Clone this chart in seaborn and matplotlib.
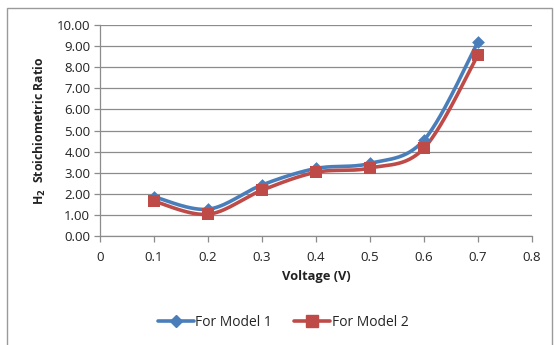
import numpy as np
import pandas as pd
import matplotlib
matplotlib.use("Agg")
import matplotlib.pyplot as plt
import seaborn as sns
from matplotlib.lines import Line2D
from matplotlib.patches import Rectangle

voltage = [0.1, 0.2, 0.3, 0.4, 0.5, 0.6, 0.7]
model1 = [1.86, 1.27, 2.42, 3.20, 3.44, 4.55, 9.20]
model2 = [1.65, 1.03, 2.17, 3.02, 3.22, 4.16, 8.58]
series_names = ["For Model 1", "For Model 2"]
x_ticks = [0, 0.1, 0.2, 0.3, 0.4, 0.5, 0.6, 0.7, 0.8]
x_tick_labels = ["0", "0.1", "0.2", "0.3", "0.4", "0.5", "0.6", "0.7", "0.8"]
y_ticks = [0, 1, 2, 3, 4, 5, 6, 7, 8, 9, 10]

blue = "#4A7EBB"
red = "#BE4B48"


def smooth(xs, ys, n=30):
    # Excel-style smoothed line rendering (cubic Bezier through the points)
    P = np.column_stack([xs, ys]).astype(float)
    out = []
    for i in range(len(P) - 1):
        p0 = P[i - 1] if i > 0 else P[i]
        p1, p2 = P[i], P[i + 1]
        p3 = P[i + 2] if i + 2 < len(P) else P[i + 1]
        c1 = p1 + (p2 - p0) / 6.0
        c2 = p2 - (p3 - p1) / 6.0
        t = np.linspace(0, 1, n, endpoint=(i == len(P) - 2))[:, None]
        seg = ((1 - t) ** 3) * p1 + 3 * ((1 - t) ** 2) * t * c1 + 3 * (1 - t) * t ** 2 * c2 + t ** 3 * p2
        out.append(seg)
    a = np.vstack(out)
    return a[:, 0], a[:, 1]


sns.set_theme(style="white")
plt.rcParams["font.family"] = ["Open Sans", "DejaVu Sans"]

fig = plt.figure(figsize=(5.55, 3.45), dpi=100)
ax = fig.add_axes([100 / 555, 1 - 236 / 345, 432 / 555, 211 / 345])

for vals, col, mk, ms, name in [(model1, blue, "D", 6.5, series_names[0]),
                                  (model2, red, "s", 8.5, series_names[1])]:
    sx, sy = smooth(voltage, vals)
    sns.lineplot(x=sx, y=sy, ax=ax, color=col, linewidth=2.6, sort=False,
                 estimator=None, legend=False)
    sns.scatterplot(x=voltage, y=vals, ax=ax, color=col, marker=mk, s=ms ** 2,
                    linewidth=0, legend=False, zorder=5)

ax.set_xlim(0, 0.8)
ax.set_ylim(0, 10)
ax.set_xticks(x_ticks)
ax.set_xticklabels(x_tick_labels)
ax.set_yticks(y_ticks)
ax.set_yticklabels([f"{v:.2f}" for v in y_ticks])
ax.yaxis.grid(True, color="#8c8c8c", linewidth=0.9)
ax.xaxis.grid(False)
ax.set_axisbelow(True)
for s in ["top", "right"]:
    ax.spines[s].set_visible(False)
for s in ["left", "bottom"]:
    ax.spines[s].set_color("#8c8c8c")
    ax.spines[s].set_linewidth(0.9)
ax.tick_params(axis="both", which="major", direction="out", length=4, width=0.9,
               color="#8c8c8c", labelsize=9.5, labelcolor="#222222", pad=3,
               bottom=True, left=True)
ax.tick_params(axis="x", pad=7)

ax.set_xlabel("Voltage (V)", fontsize=9.3, fontweight="bold", color="#222222", labelpad=4)
ax.set_ylabel("H$_\\mathbf{2}$  Stoichiometric Ratio", fontsize=8.8, fontweight="bold",
              color="#222222", labelpad=6)

handles = [Line2D([0], [0], color=blue, lw=2.6, marker="D", ms=6.5),
           Line2D([0], [0], color=red, lw=2.6, marker="s", ms=8.5)]
fig.legend(handles, series_names, loc="center", bbox_to_anchor=(283 / 555, 1 - 322 / 345),
           ncol=2, frameon=False, fontsize=10, handlelength=2.6, handletextpad=0.1,
           columnspacing=1.6)

fig.patches.append(Rectangle((7 / 555, -0.05), (552 - 7) / 555, 1.05 - 8 / 345,
                             transform=fig.transFigure, fill=False,
                             edgecolor="#9a9a9a", linewidth=1.0))

fig.savefig("out.png", dpi=100, facecolor="white")
